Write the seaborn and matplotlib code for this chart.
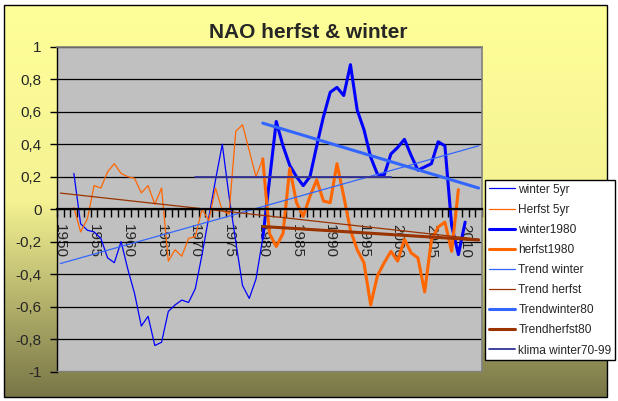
import numpy as np
import pandas as pd
import seaborn as sns
import matplotlib.pyplot as plt
from matplotlib.colors import LinearSegmentedColormap
from matplotlib.patches import Rectangle
from matplotlib.ticker import MultipleLocator, FixedLocator

# 5-jaars gemiddelden, gelezen uit de grafiek
winter_years = list(range(1952, 2011))
winter_5yr = [0.22, -0.09, -0.13, -0.14, -0.18, -0.30, -0.33, -0.20, -0.37, -0.52,
              -0.72, -0.66, -0.84, -0.82, -0.63, -0.59, -0.56, -0.575, -0.49, -0.28,
              -0.05, 0.18, 0.40, 0.08, -0.20, -0.47, -0.55, -0.43, -0.18, 0.18,
              0.54, 0.39, 0.27, 0.20, 0.145, 0.20, 0.39, 0.57, 0.72, 0.75,
              0.70, 0.89, 0.61, 0.49, 0.32, 0.215, 0.21, 0.34, 0.38, 0.43,
              0.33, 0.24, 0.26, 0.28, 0.415, 0.39, -0.10, -0.28, -0.08]

herfst_years = list(range(1952, 2010))
herfst_5yr = [0.01, -0.14, -0.06, 0.145, 0.13, 0.23, 0.28, 0.22, 0.20, 0.19,
              0.10, 0.145, 0.03, 0.13, -0.32, -0.25, -0.29, -0.18, -0.17, 0.00,
              -0.07, 0.13, -0.01, -0.03, 0.48, 0.52, 0.36, 0.20, 0.31, -0.15,
              -0.23, -0.15, 0.25, 0.04, -0.045, 0.08, 0.18, 0.05, 0.04, 0.28,
              0.08, -0.13, -0.25, -0.33, -0.59, -0.41, -0.33, -0.26, -0.32, -0.185,
              -0.27, -0.30, -0.51, -0.19, -0.11, -0.08, -0.26, 0.12]

START_1980 = 1980

# trendlijnen (begin- en eindwaarde)
trend_years = [1950, 2012]
trend_winter = [-0.335, 0.39]
trend_herfst = [0.099, -0.185]
trend80_years = [1980, 2012]
trend_winter80 = [0.53, 0.13]
trend_herfst80 = [-0.107, -0.19]

klima_years = [1970, 1999]
klima_winter = [0.2, 0.2]

y_ticks = [-1, -0.8, -0.6, -0.4, -0.2, 0, 0.2, 0.4, 0.6, 0.8, 1]
x_label_years = list(range(1950, 2011, 5))

BLUE = '#0000FF'
ORANGE = '#FF6600'
LIGHT_BLUE = '#3366FF'
BROWN = '#993300'
NAVY = '#333399'

sns.set_style("white")
plt.rcParams['font.family'] = ['Liberation Sans', 'DejaVu Sans']
plt.rcParams['axes.unicode_minus'] = False

W, H = 618, 401
fig = plt.figure(figsize=(W / 100, H / 100), dpi=100, facecolor='white')


def px_box(x0, y0, x1, y1):
    # pixel rechthoek (vanaf linksboven) naar figure fractie
    return [x0 / W, 1 - y1 / H, (x1 - x0) / W, (y1 - y0) / H]


# achtergrond met kleurverloop
bg = fig.add_axes(px_box(4, 5, 607, 397), zorder=-2)
cmap = LinearSegmentedColormap.from_list('nao_bg', ['#FFFF99', '#F4F292', '#787647'])
bg.imshow(np.linspace(0, 1, 256).reshape(-1, 1), aspect='auto', cmap=cmap,
          extent=[0, 1, 0, 1])
bg.set_axis_off()
fig.patches.append(Rectangle((4 / W, 1 - 397 / H), 603 / W, 392 / H,
                             transform=fig.transFigure, fill=False,
                             edgecolor='black', lw=1, zorder=-1))

ax = fig.add_axes(px_box(57, 46.8, 482, 371.5), zorder=1)
ax.set_facecolor('#C0C0C0')

df_w = pd.DataFrame({'jaar': winter_years, 'nao': winter_5yr})
df_h = pd.DataFrame({'jaar': herfst_years, 'nao': herfst_5yr})
df_w80 = df_w[df_w['jaar'] >= START_1980]
df_h80 = df_h[df_h['jaar'] >= START_1980]

sns.lineplot(data=df_w, x='jaar', y='nao', ax=ax, color=BLUE, lw=0.9, label='winter 5yr')
sns.lineplot(data=df_h, x='jaar', y='nao', ax=ax, color=ORANGE, lw=0.9, label='Herfst 5yr')
sns.lineplot(data=df_w80, x='jaar', y='nao', ax=ax, color=BLUE, lw=2.2, label='winter1980')
sns.lineplot(data=df_h80, x='jaar', y='nao', ax=ax, color=ORANGE, lw=2.2, label='herfst1980')
sns.lineplot(x=trend_years, y=trend_winter, ax=ax, color=LIGHT_BLUE, lw=0.9, label='Trend winter')
sns.lineplot(x=trend_years, y=trend_herfst, ax=ax, color=BROWN, lw=0.9, label='Trend herfst')
sns.lineplot(x=trend80_years, y=trend_winter80, ax=ax, color=LIGHT_BLUE, lw=2.2, label='Trendwinter80')
sns.lineplot(x=trend80_years, y=trend_herfst80, ax=ax, color=BROWN, lw=2.2, label='Trendherfst80')
sns.lineplot(x=klima_years, y=klima_winter, ax=ax, color=NAVY, lw=1.3, label='klima winter70-99')

ax.set_xlim(1949.5, 2012.5)
ax.set_ylim(-1, 1)
ax.set_xlabel('')
ax.set_ylabel('')

# y-as
ax.set_yticks(y_ticks)
ax.set_yticklabels([f'{v:g}'.replace('.', ',') for v in y_ticks])
ax.tick_params(axis='y', direction='out', length=5, width=1, pad=6,
               labelsize=11, color='black', left=True)
ax.yaxis.grid(True, color='black', lw=0.9)
ax.xaxis.grid(False)

# x-as door nul
ax.spines['bottom'].set_position(('data', 0))
ax.spines['bottom'].set_color('black')
ax.spines['bottom'].set_linewidth(1.6)
ax.spines['left'].set_color('black')
ax.spines['left'].set_linewidth(1)
for side in ['top', 'right']:
    ax.spines[side].set_color('#808080')
    ax.spines[side].set_linewidth(1.2)
ax.axhline(-1, color='#808080', lw=2.4, zorder=3)

ax.xaxis.set_major_locator(FixedLocator(x_label_years))
ax.set_xticklabels([str(y) for y in x_label_years], rotation=-90)
ax.xaxis.set_minor_locator(MultipleLocator(1, offset=0.5))
ax.tick_params(axis='x', which='major', length=0, pad=11, labelsize=11, bottom=True)
ax.tick_params(axis='x', which='minor', direction='out', length=6, width=1,
               color='black', bottom=True)

fig.text(308.5 / W, 1 - 33 / H, 'NAO herfst & winter', ha='center', va='center',
         fontsize=15, fontweight='bold')

handles, labels = ax.get_legend_handles_labels()
ax.get_legend().remove()
leg = fig.legend(handles, labels, loc='upper left',
                 bbox_to_anchor=(485 / W, 1 - 180 / H), bbox_transform=fig.transFigure,
                 fontsize=8.6, frameon=True, fancybox=False, framealpha=1,
                 edgecolor='black', facecolor='white', borderpad=0.3,
                 labelspacing=0.68, handlelength=2.2, handletextpad=0.3,
                 borderaxespad=0)
leg.get_frame().set_linewidth(1)
leg.set_zorder(5)

fig.savefig('out.png', dpi=100, facecolor='white')
